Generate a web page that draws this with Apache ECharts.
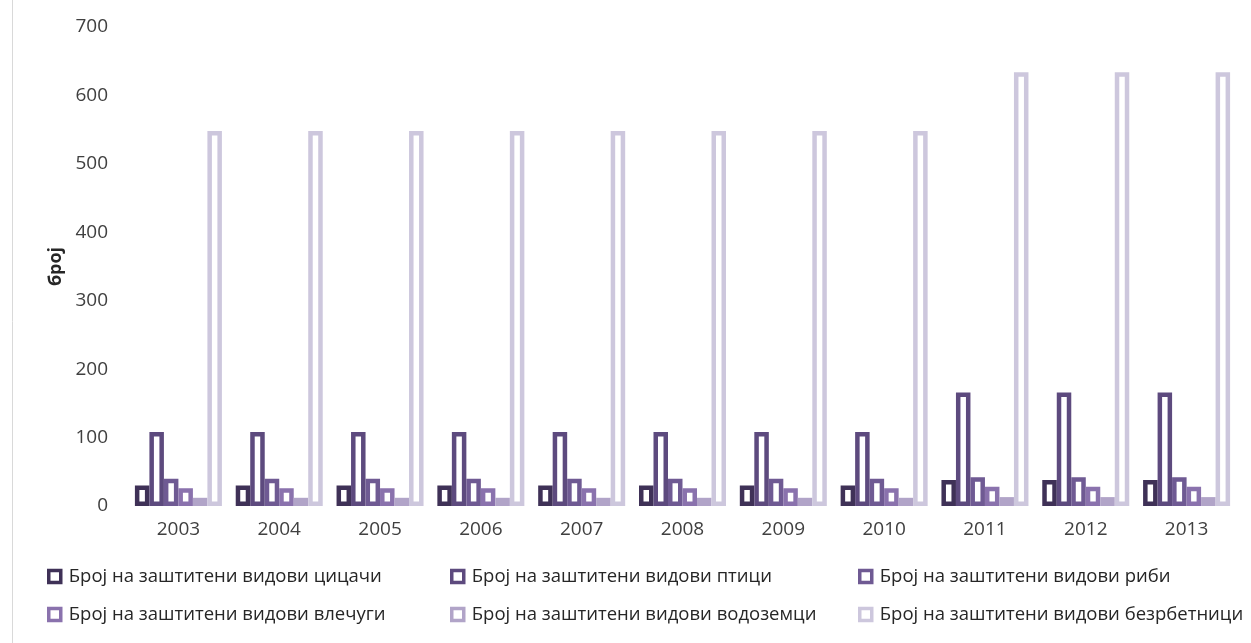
<!DOCTYPE html>
<html><head><meta charset="utf-8">
<script src="https://cdn.jsdelivr.net/npm/echarts@6/dist/echarts.min.js"></script>
<style>html,body{margin:0;padding:0;background:#fff}#c{width:1251px;height:643px}</style>
</head><body><div id="c"></div>
<script>
var years = ['2003','2004','2005','2006','2007','2008','2009','2010','2011','2012','2013'];
var seriesNames = ['Број на заштитени видови цицачи','Број на заштитени видови птици','Број на заштитени видови риби','Број на заштитени видови влечуги','Број на заштитени видови водоземци','Број на заштитени видови безрбетници'];
var mammals = [30,30,30,30,30,30,30,30,38,38,38];
var birds = [108,108,108,108,108,108,108,108,166,166,166];
var fish = [40,40,40,40,40,40,40,40,42,42,42];
var reptiles = [26,26,26,26,26,26,26,26,28,28,28];
var amphibians = [12,12,12,12,12,12,12,12,13,13,13];
var invertebrates = [548,548,548,548,548,548,548,548,634,634,634];
var yTicks = [0,100,200,300,400,500,600,700];
var colors = ['#3f3157','#5d4a7e','#6f5a93','#8a72ad','#b1a4c8','#cdc7dd'];
var values = [mammals,birds,fish,reptiles,amphibians,invertebrates];
var font = 'Open Sans';
var series = values.map(function(v,i){
  return {name: seriesNames[i], type:'bar', data:v, barWidth:14.5, barGap:'0%',
    itemStyle:{color:'#ffffff', borderColor:colors[i], borderWidth:4.5}};
});
function leg(names, left){
  return {data:names, orient:'vertical', left:left, top:567, padding:0, itemGap:19, itemWidth:12, itemHeight:12,
    icon:'rect', itemStyle:{borderWidth:3.5},
    textStyle:{fontFamily:font, fontSize:18.5, color:'#262626', padding:[0,0,0,3]}, selectedMode:false};
}
var chart = echarts.init(document.getElementById('c'));
chart.setOption({
  animation:false,
  color: colors,
  grid:{left:128, right:14, top:27, bottom:137},
  xAxis:{type:'category', data:years, axisLine:{show:false}, axisTick:{show:false},
    axisLabel:{fontFamily:font, fontSize:19, color:'#404040', margin:14}},
  yAxis:{type:'value', min:yTicks[0], max:yTicks[yTicks.length-1], interval:100,
    splitLine:{show:false}, axisLine:{show:false}, axisTick:{show:false},
    axisLabel:{fontFamily:font, fontSize:19, color:'#404040', margin:20},
    name:'број', nameLocation:'middle', nameGap:62, nameRotate:90,
    nameTextStyle:{fontFamily:font, fontSize:18, fontWeight:'bold', color:'#262626'}},
  legend:[leg([seriesNames[0],seriesNames[3]],47), leg([seriesNames[1],seriesNames[4]],450), leg([seriesNames[2],seriesNames[5]],858)],
  graphic:[{type:'line', shape:{x1:12.5,y1:0,x2:12.5,y2:643}, style:{stroke:'#d9d9d9', lineWidth:1}}],
  series: series
});
</script></body></html>
